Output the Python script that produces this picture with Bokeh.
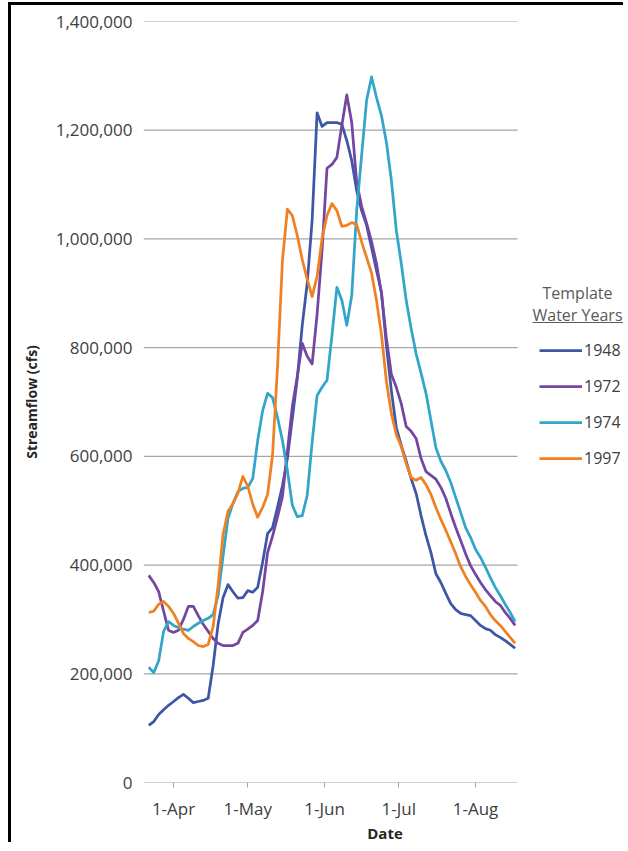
import pandas as pd
from bokeh.plotting import figure
from bokeh.models import (FixedTicker, Legend, LegendItem, Label, Range1d,
                          NumeralTickFormatter, Arrow)
from bokeh.embed import file_html
from bokeh.resources import INLINE

# ---------------- data ----------------
dates = [
    "2001-03-22", "2001-03-24", "2001-03-26", "2001-03-28", "2001-03-30",
    "2001-04-01", "2001-04-03", "2001-04-05", "2001-04-07", "2001-04-09",
    "2001-04-11", "2001-04-13", "2001-04-15", "2001-04-17", "2001-04-19",
    "2001-04-21", "2001-04-23", "2001-04-25", "2001-04-27", "2001-04-29",
    "2001-05-01", "2001-05-03", "2001-05-05", "2001-05-07", "2001-05-09",
    "2001-05-11", "2001-05-13", "2001-05-15", "2001-05-17", "2001-05-19",
    "2001-05-21", "2001-05-23", "2001-05-25", "2001-05-27", "2001-05-29",
    "2001-05-31", "2001-06-02", "2001-06-04", "2001-06-06", "2001-06-08",
    "2001-06-10", "2001-06-12", "2001-06-14", "2001-06-16", "2001-06-18",
    "2001-06-20", "2001-06-22", "2001-06-24", "2001-06-26", "2001-06-28",
    "2001-06-30", "2001-07-02", "2001-07-04", "2001-07-06", "2001-07-08",
    "2001-07-10", "2001-07-12", "2001-07-14", "2001-07-16", "2001-07-18",
    "2001-07-20", "2001-07-22", "2001-07-24", "2001-07-26", "2001-07-28",
    "2001-07-30", "2001-08-01", "2001-08-03", "2001-08-05", "2001-08-07",
    "2001-08-09", "2001-08-11", "2001-08-13", "2001-08-15", "2001-08-17",
]

# streamflow, thousands of cfs
flow_1948 = [
    105, 112, 125, 134, 142, 149, 156, 162, 155, 147,
    149, 151, 155, 215, 291, 340, 364, 351, 339, 340,
    353, 350, 359, 405, 458, 469, 506, 546, 596, 670,
    743, 841, 918, 1034, 1232, 1207, 1214, 1214, 1214, 1211,
    1181, 1144, 1089, 1052, 1025, 984, 942, 902, 804, 721,
    653, 620, 591, 559, 532, 491, 454, 423, 384, 368,
    348, 329, 318, 311, 309, 307, 298, 289, 283, 280,
    272, 267, 261, 254, 247,
]
flow_1972 = [
    381, 368, 351, 315, 280, 276, 280, 300, 324, 324,
    307, 291, 278, 265, 256, 252, 252, 252, 256, 276,
    282, 289, 298, 351, 423, 453, 488, 526, 609, 692,
    747, 808, 784, 770, 861, 979, 1130, 1137, 1150, 1209,
    1265, 1214, 1104, 1060, 1029, 995, 955, 900, 817, 751,
    727, 697, 655, 646, 633, 596, 572, 565, 558, 543,
    523, 495, 469, 445, 421, 399, 383, 368, 355, 344,
    333, 326, 313, 302, 289,
]
flow_1974 = [
    212, 202, 224, 278, 296, 289, 285, 282, 280, 287,
    293, 298, 302, 309, 344, 416, 486, 513, 535, 541,
    543, 559, 629, 684, 716, 708, 672, 629, 574, 510,
    489, 491, 528, 626, 712, 727, 740, 822, 911, 887,
    841, 896, 1052, 1154, 1255, 1298, 1260, 1227, 1178, 1108,
    1016, 955, 887, 835, 789, 753, 716, 666, 616, 591,
    574, 552, 524, 497, 469, 451, 429, 414, 396, 377,
    359, 344, 328, 313, 296,
]
flow_1997 = [
    313, 315, 328, 333, 324, 311, 293, 274, 265, 259,
    252, 250, 254, 287, 362, 456, 499, 513, 532, 563,
    545, 512, 488, 506, 530, 602, 764, 960, 1055, 1043,
    1006, 962, 926, 894, 931, 1001, 1043, 1065, 1052, 1023,
    1025, 1030, 1027, 994, 966, 937, 887, 824, 738, 679,
    640, 618, 587, 561, 556, 561, 548, 530, 506, 484,
    464, 443, 421, 397, 379, 364, 350, 335, 324, 309,
    298, 289, 278, 267, 256,
]

years = ["1948", "1972", "1974", "1997"]
series = [flow_1948, flow_1972, flow_1974, flow_1997]
colors = ["#3D56A6", "#7347A1", "#33A5C9", "#EF8123"]

x_tick_dates = ["2001-04-01", "2001-05-01", "2001-06-01", "2001-07-01", "2001-08-01"]
x_tick_labels = ["1-Apr", "1-May", "1-Jun", "1-Jul", "1-Aug"]
y_ticks = [0, 200000, 400000, 600000, 800000, 1000000, 1200000, 1400000]

# ---------------- figure ----------------
FONT = "Open Sans"
TXT = "#404040"
GRID = "#A6A6A6"

x = pd.to_datetime(dates)
season0 = pd.Timestamp("2001-03-01")
x_start = season0 + pd.Timedelta(days=18.87)
grid_end = season0 + pd.Timedelta(days=170.0)
x_end = season0 + pd.Timedelta(days=214.0)   # room on the right for the legend

p = figure(width=615, height=840, x_axis_type="datetime",
           x_range=Range1d(x_start, x_end), y_range=Range1d(0, 1400000),
           output_backend="svg", toolbar_location=None,
           min_border_left=132, min_border_right=0,
           min_border_top=16, min_border_bottom=0)
p.styles = {"margin-left": "8px", "margin-top": "2px",
            "border-left": "3px solid #000", "border-top": "3px solid #000"}
p.outline_line_color = None
p.background_fill_color = "white"

# horizontal gridlines (only across the plotted period)
p.segment(x0=[x_start] * len(y_ticks), y0=y_ticks,
          x1=[grid_end] * len(y_ticks), y1=y_ticks,
          line_color=GRID, line_width=1.2)

renderers = []
for yr, vals, c in zip(years, series, colors):
    r = p.line(x, [v * 1000 for v in vals], line_color=c, line_width=2.75,
               line_join="round")
    renderers.append(r)

# x axis
tick_ms = [pd.Timestamp(d).value // 10**6 for d in x_tick_dates]
p.xaxis.ticker = FixedTicker(ticks=tick_ms)
p.xaxis.major_label_overrides = {t: lab for t, lab in zip(tick_ms, x_tick_labels)}
p.xaxis.axis_line_color = None
p.xaxis.major_tick_line_color = GRID
p.xaxis.major_tick_out = 5
p.xaxis.major_tick_in = 0
p.xaxis.minor_tick_line_color = None
p.xaxis.major_label_standoff = 9
p.xaxis.major_label_text_font = FONT
p.xaxis.major_label_text_font_size = "17px"
p.xaxis.major_label_text_color = TXT
p.xaxis.axis_label = "Date"
p.xaxis.axis_label_text_font = FONT
p.xaxis.axis_label_text_font_size = "15px"
p.xaxis.axis_label_text_font_style = "bold"
p.xaxis.axis_label_text_color = "#262626"
p.xaxis.axis_label_standoff = 0

# y axis
p.yaxis.ticker = FixedTicker(ticks=y_ticks)
p.yaxis.formatter = NumeralTickFormatter(format="0,0")
p.yaxis.axis_line_color = None
p.yaxis.major_tick_line_color = None
p.yaxis.major_tick_out = 0
p.yaxis.major_tick_in = 0
p.yaxis.minor_tick_line_color = None
p.yaxis.major_label_standoff = 11
p.yaxis.major_label_text_font = FONT
p.yaxis.major_label_text_font_size = "17px"
p.yaxis.major_label_text_color = TXT
p.yaxis.axis_label = "Streamflow (cfs)"
p.yaxis.axis_label_text_font = FONT
p.yaxis.axis_label_text_font_size = "14px"
p.yaxis.axis_label_text_font_style = "bold"
p.yaxis.axis_label_text_color = "#262626"
p.yaxis.axis_label_standoff = 12

p.xgrid.grid_line_color = None
p.ygrid.grid_line_color = None

# legend
legend = Legend(
    items=[LegendItem(label=yr, renderers=[r]) for yr, r in zip(years, renderers)],
    location=(396, 313), orientation="vertical",
    glyph_width=43, glyph_height=20, label_height=20, spacing=14,
    padding=0, margin=0, label_standoff=2,
    border_line_color=None, background_fill_alpha=0,
    label_text_font=FONT, label_text_font_size="16px", label_text_color=TXT,
)
p.add_layout(legend)

p.add_layout(Label(x=434, y=490, x_units="screen", y_units="screen",
                   text="Template", text_align="center", text_baseline="middle",
                   text_font=FONT, text_font_size="16px", text_color="#595959"))
p.add_layout(Label(x=389, y=468, x_units="screen", y_units="screen",
                   text="Water Years", text_align="left", text_baseline="middle",
                   text_font=FONT, text_font_size="16px", text_color="#595959"))
p.add_layout(Arrow(end=None, x_start=389, y_start=460, x_end=485, y_end=460,
                   start_units="screen", end_units="screen",
                   line_color="#595959", line_width=1))

open("out.html", "w").write(file_html(p, INLINE))
